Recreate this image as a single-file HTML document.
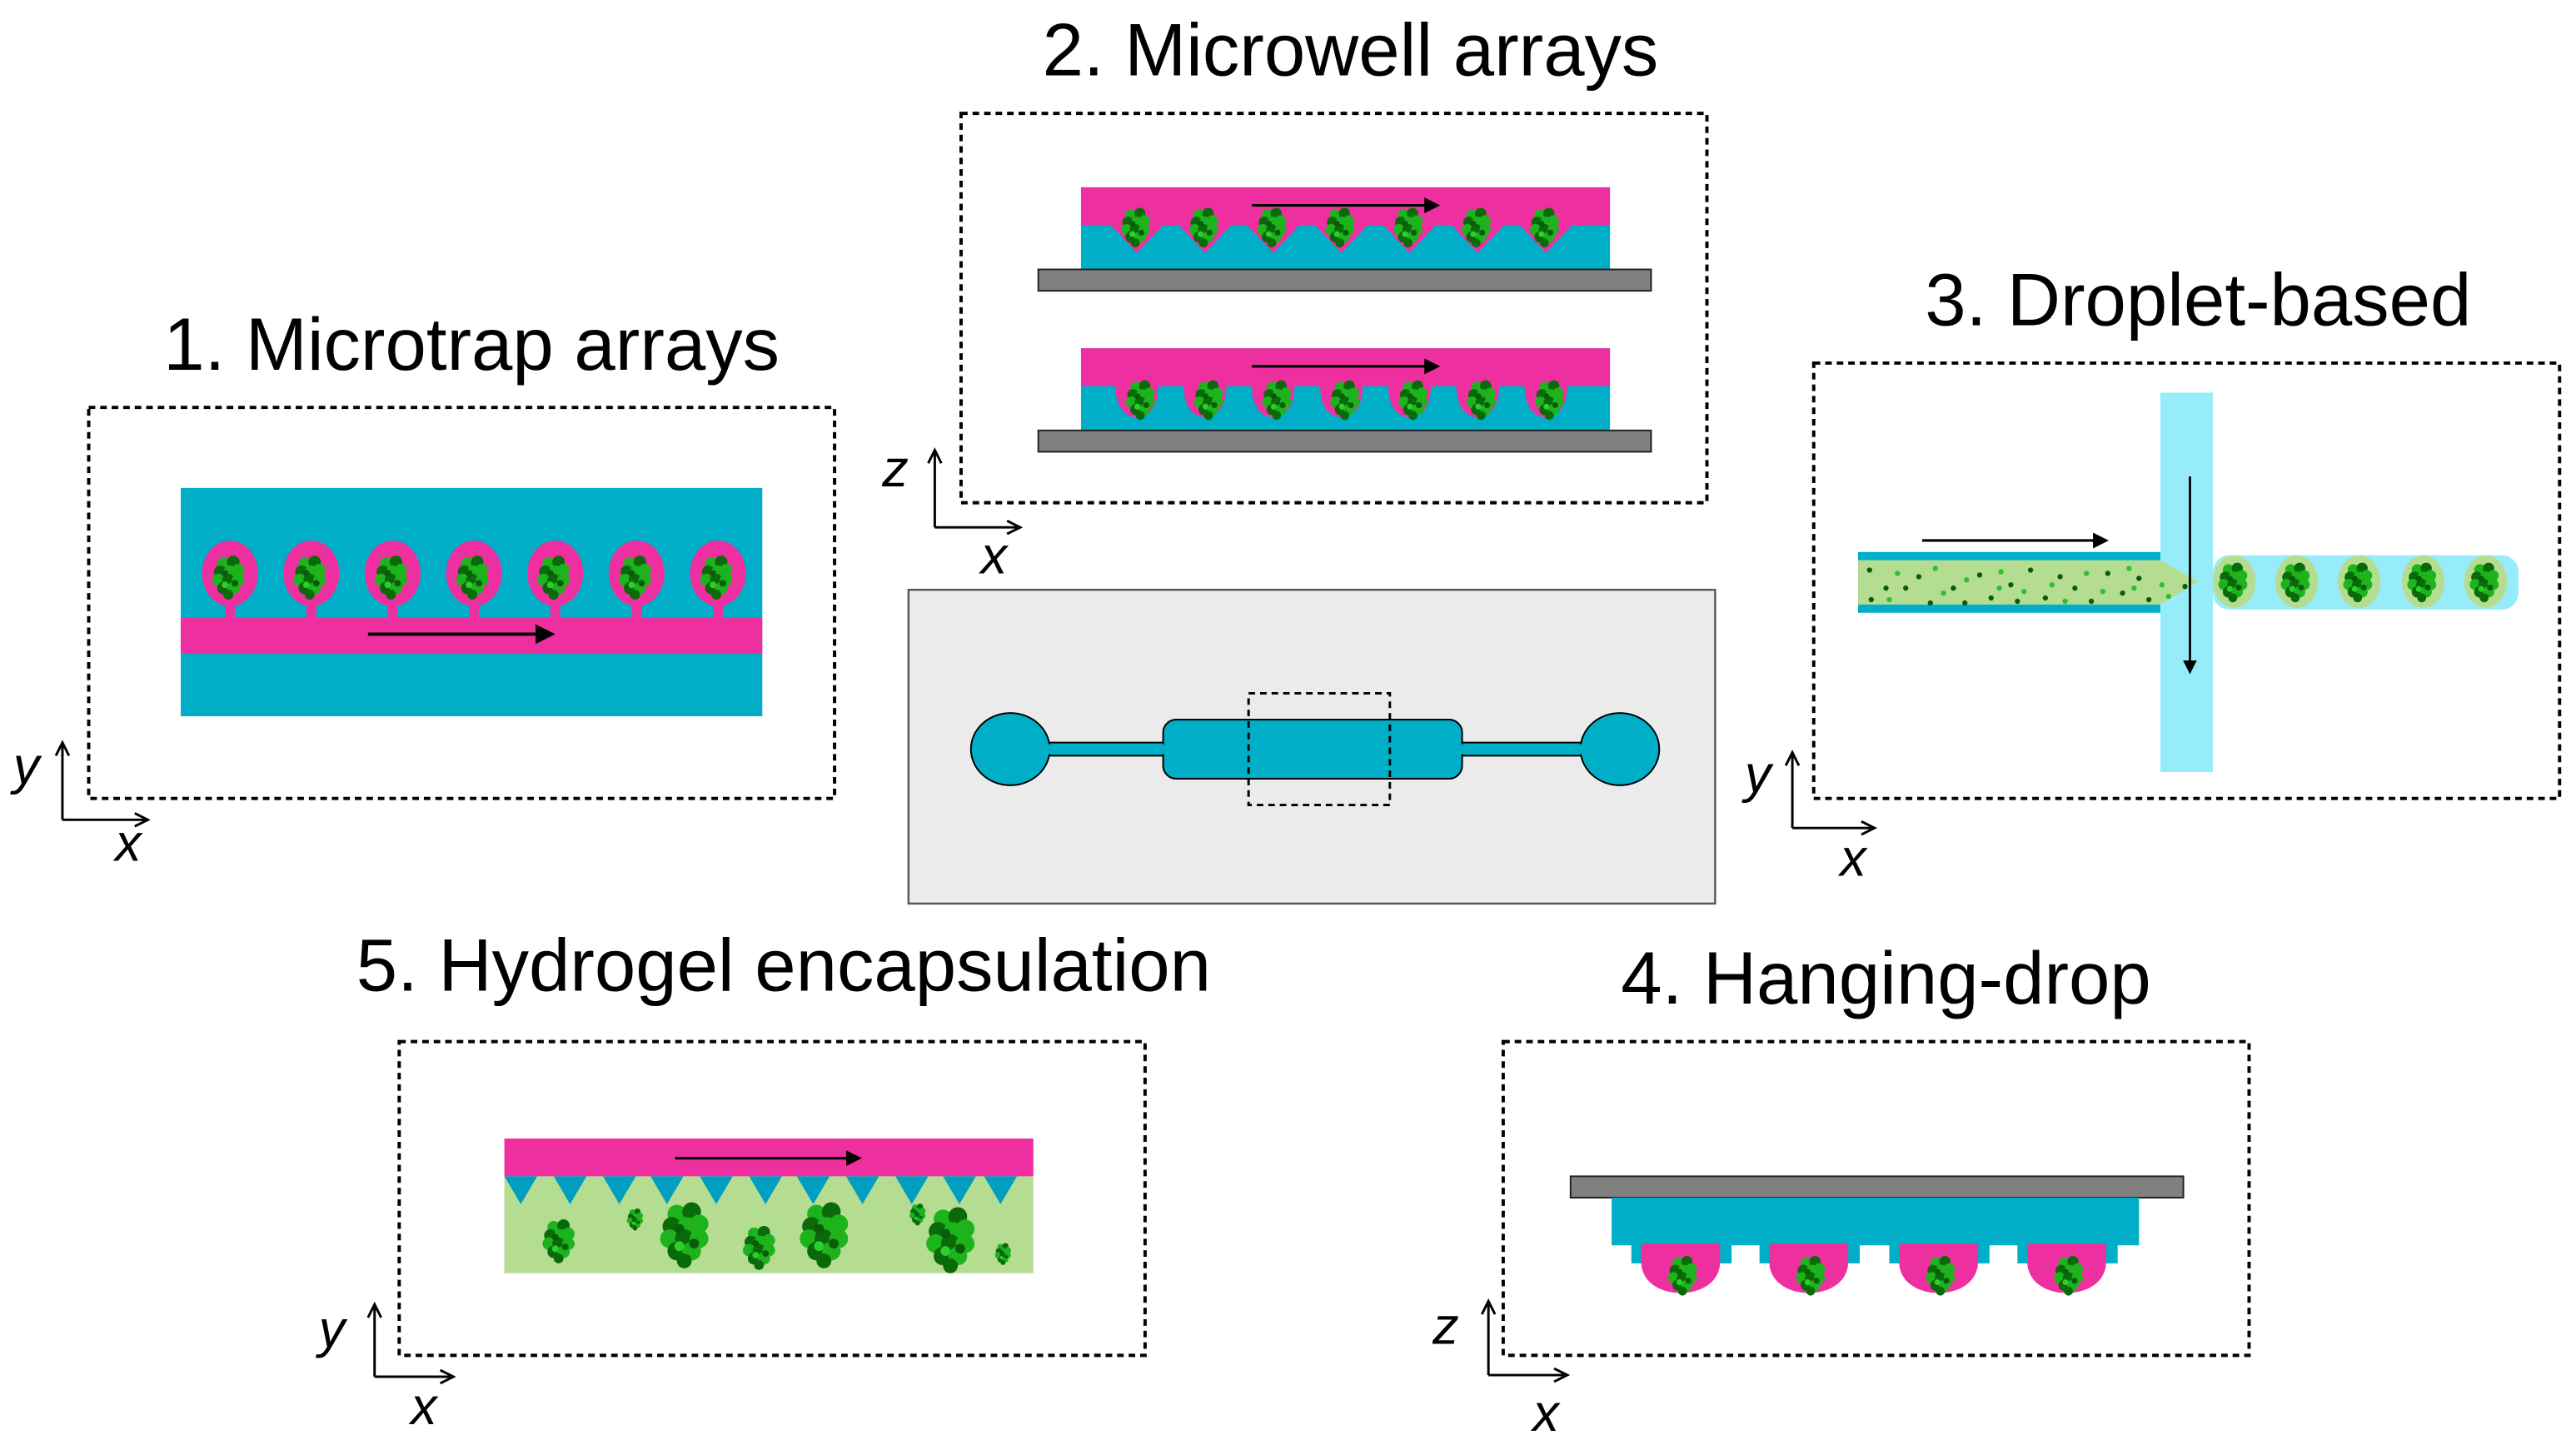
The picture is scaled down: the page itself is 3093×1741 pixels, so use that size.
<!DOCTYPE html>
<html><head><meta charset="utf-8"><style>html,body{margin:0;padding:0;background:#fff}svg{display:block}</style></head>
<body>
<svg width="3093" height="1741" viewBox="0 0 1568 882.6" xmlns="http://www.w3.org/2000/svg" font-family="Liberation Sans, sans-serif">
<defs>
<symbol id="cl" viewBox="-10 -12 20 24" overflow="visible">
<g>
<circle cx="-4" cy="-8" r="3.8" fill="#1db31d"/><circle cx="2" cy="-9" r="3.8" fill="#0a6a0a"/>
<circle cx="-6" cy="-3" r="3.8" fill="#0a6a0a"/><circle cx="0" cy="-3" r="3.8" fill="#1db31d"/><circle cx="5" cy="-4" r="3.8" fill="#1db31d"/>
<circle cx="-7" cy="2" r="3.8" fill="#1db31d"/><circle cx="-1" cy="2" r="3.8" fill="#0a6a0a"/><circle cx="5" cy="2" r="3.8" fill="#1db31d"/>
<circle cx="-4" cy="7" r="3.8" fill="#0a6a0a"/><circle cx="2" cy="7" r="3.8" fill="#1db31d"/><circle cx="-1" cy="11" r="3" fill="#0a6a0a"/>
<circle cx="-3" cy="-2" r="2" fill="#0a5c0a"/><circle cx="3" cy="4" r="2" fill="#0a5c0a"/><circle cx="-3" cy="5" r="2" fill="#2cd02c"/>
</g>
</symbol>
<marker id="ah" markerWidth="6" markerHeight="6" refX="5" refY="3" orient="auto" markerUnits="strokeWidth"><path d="M0,0 L6,3 L0,6 z" fill="#000"/></marker>
</defs>

<g font-size="45" fill="#000">
<text x="287" y="225" text-anchor="middle">1. Microtrap arrays</text>
<text x="822" y="46" text-anchor="middle">2. Microwell arrays</text>
<text x="1338" y="198" text-anchor="middle">3. Droplet-based</text>
<text x="477" y="603" text-anchor="middle">5. Hydrogel encapsulation</text>
<text x="1148" y="611" text-anchor="middle">4. Hanging-drop</text>
</g>

<g fill="none" stroke="#000" stroke-width="2" stroke-dasharray="4,3">
<rect x="54" y="248" width="454" height="238"/>
<rect x="585" y="69" width="454" height="237"/>
<rect x="1104" y="221" width="454" height="265"/>
<rect x="243" y="634" width="454" height="191"/>
<rect x="915" y="634" width="454" height="191"/>
</g>

<!-- axes -->
<g stroke="#000" stroke-width="1.5" fill="none">
<path d="M38,499 V454 M34,460 L38,452 L42,460"/><path d="M38,499 H88 M82,495 L90,499 L82,503"/>
<path d="M569,321 V276 M565,282 L569,274 L573,282"/><path d="M569,321 H619 M613,317 L621,321 L613,325"/>
<path d="M1091,504 V460 M1087,466 L1091,458 L1095,466"/><path d="M1091,504 H1139 M1133,500 L1141,504 L1133,508"/>
<path d="M228,838 V796 M224,802 L228,794 L232,802"/><path d="M228,838 H274 M268,834 L276,838 L268,842"/>
<path d="M906,837 V794 M902,800 L906,792 L910,800"/><path d="M906,837 H952 M946,833 L954,837 L946,841"/>
</g>
<g font-size="32" font-style="italic" fill="#000">
<text x="8" y="477">y</text><text x="70" y="524">x</text>
<text x="537" y="296">z</text><text x="597" y="349">x</text>
<text x="1062" y="482">y</text><text x="1120" y="533">x</text>
<text x="194" y="820">y</text><text x="250" y="867">x</text>
<text x="872" y="818">z</text><text x="933" y="871">x</text>
</g>

<!-- Panel 1 -->
<rect x="110" y="297" width="354" height="139" fill="#00aec7"/>
<rect x="110" y="376" width="354" height="22" fill="#ee2fa0"/>
<g fill="#ee2fa0">
<g id="tr"><ellipse cx="140" cy="349" rx="17" ry="20" /><rect x="137" y="365" width="6" height="12"/></g>
<use href="#tr" x="49.5"/><use href="#tr" x="99"/><use href="#tr" x="148.5"/><use href="#tr" x="198"/><use href="#tr" x="247.5"/><use href="#tr" x="297"/>
</g>
<g>
<use href="#cl" x="130" y="339" width="20" height="24"/><use href="#cl" x="179.5" y="339" width="20" height="24"/><use href="#cl" x="229" y="339" width="20" height="24"/><use href="#cl" x="278.5" y="339" width="20" height="24"/><use href="#cl" x="328" y="339" width="20" height="24"/><use href="#cl" x="377.5" y="339" width="20" height="24"/><use href="#cl" x="427" y="339" width="20" height="24"/>
</g>
<line x1="224" y1="386" x2="336" y2="386" stroke="#000" stroke-width="2" marker-end="url(#ah)"/>

<!-- Panel 2 upper -->
<rect x="658" y="114" width="322" height="50" fill="#00aec7"/>
<rect x="658" y="114" width="322" height="23" fill="#ee2fa0"/>
<g fill="#ee2fa0">
<path id="vw" d="M676,137 L708,137 L692,154 Z"/>
<use href="#vw" x="41.5"/><use href="#vw" x="83"/><use href="#vw" x="124.5"/><use href="#vw" x="166"/><use href="#vw" x="207.5"/><use href="#vw" x="249"/>
</g>
<g>
<use href="#cl" x="683" y="127" width="18" height="22"/><use href="#cl" x="724.5" y="127" width="18" height="22"/><use href="#cl" x="766" y="127" width="18" height="22"/><use href="#cl" x="807.5" y="127" width="18" height="22"/><use href="#cl" x="849" y="127" width="18" height="22"/><use href="#cl" x="890.5" y="127" width="18" height="22"/><use href="#cl" x="932" y="127" width="18" height="22"/>
</g>
<rect x="632" y="164" width="373" height="13" fill="#808080" stroke="#222" stroke-width="1"/>
<line x1="762" y1="125" x2="875" y2="125" stroke="#000" stroke-width="1.6" marker-end="url(#ah)"/>
<!-- Panel 2 lower -->
<rect x="658" y="212" width="322" height="50" fill="#00aec7"/>
<rect x="658" y="212" width="322" height="23" fill="#ee2fa0"/>
<g fill="#ee2fa0">
<path id="uw" d="M679,235 L705,235 C705,248 699,254 692,254 C685,254 679,248 679,235 Z"/>
<use href="#uw" x="41.5"/><use href="#uw" x="83"/><use href="#uw" x="124.5"/><use href="#uw" x="166"/><use href="#uw" x="207.5"/><use href="#uw" x="249"/>
</g>
<g>
<use href="#cl" x="686" y="232" width="18" height="22"/><use href="#cl" x="727.5" y="232" width="18" height="22"/><use href="#cl" x="769" y="232" width="18" height="22"/><use href="#cl" x="810.5" y="232" width="18" height="22"/><use href="#cl" x="852" y="232" width="18" height="22"/><use href="#cl" x="893.5" y="232" width="18" height="22"/><use href="#cl" x="935" y="232" width="18" height="22"/>
</g>
<rect x="632" y="262" width="373" height="13" fill="#808080" stroke="#222" stroke-width="1"/>
<line x1="762" y1="223" x2="875" y2="223" stroke="#000" stroke-width="1.6" marker-end="url(#ah)"/>

<!-- Chip -->
<rect x="553" y="359" width="491" height="191" fill="#ebebeb" stroke="#555" stroke-width="1.2"/>
<g fill="#00aec7" stroke="#000" stroke-width="1">
<rect x="630" y="452" width="90" height="8"/>
<rect x="880" y="452" width="90" height="8"/>
<ellipse cx="615" cy="456" rx="24" ry="22"/>
<ellipse cx="986" cy="456" rx="24" ry="22"/>
<rect x="708" y="438" width="182" height="36" rx="8"/>
</g>
<g fill="#00aec7"><rect x="636" y="453" width="74" height="6"/><rect x="888" y="453" width="76" height="6"/></g>
<rect x="760" y="422" width="86" height="68" fill="none" stroke="#000" stroke-width="1.5" stroke-dasharray="4,3"/>

<!-- Panel 3 -->
<rect x="1315" y="239" width="32" height="231" fill="#97ecfb"/>
<rect x="1131" y="336" width="184" height="37" fill="#00aec7"/>
<path d="M1131,341 H1315 L1338,354 L1315,368 H1131 Z" fill="#b5dd92"/>
<rect x="1347" y="338" width="186" height="33" rx="10" fill="#97ecfb"/>
<g fill="#b5dd92">
<ellipse cx="1360" cy="354" rx="13" ry="16"/><ellipse cx="1398" cy="354" rx="13" ry="16"/><ellipse cx="1436" cy="354" rx="13" ry="16"/><ellipse cx="1475" cy="354" rx="13" ry="16"/><ellipse cx="1513" cy="354" rx="13" ry="16"/>
</g>
<g>
<use href="#cl" x="1351" y="343" width="18" height="22"/><use href="#cl" x="1389" y="343" width="18" height="22"/><use href="#cl" x="1427" y="343" width="18" height="22"/><use href="#cl" x="1466" y="343" width="18" height="22"/><use href="#cl" x="1504" y="343" width="18" height="22"/>
</g>
<g fill="#0a5c0a">
<circle cx="1138" cy="347" r="1.6"/><circle cx="1148" cy="358" r="1.6"/><circle cx="1139" cy="365" r="1.6"/><circle cx="1160" cy="358" r="1.6"/><circle cx="1168" cy="351" r="1.6"/><circle cx="1175" cy="367" r="1.6"/><circle cx="1189" cy="358" r="1.6"/><circle cx="1205" cy="350" r="1.6"/><circle cx="1212" cy="364" r="1.6"/><circle cx="1224" cy="356" r="1.6"/><circle cx="1236" cy="347" r="1.6"/><circle cx="1245" cy="364" r="1.6"/><circle cx="1254" cy="351" r="1.6"/><circle cx="1263" cy="358" r="1.6"/><circle cx="1273" cy="366" r="1.6"/><circle cx="1283" cy="349" r="1.6"/><circle cx="1292" cy="361" r="1.6"/><circle cx="1302" cy="352" r="1.6"/><circle cx="1308" cy="365" r="1.6"/><circle cx="1330" cy="357" r="1.6"/><circle cx="1196" cy="367" r="1.6"/><circle cx="1228" cy="366" r="1.6"/>
</g>
<g fill="#2cc02c">
<circle cx="1155" cy="349" r="1.6"/><circle cx="1150" cy="365" r="1.6"/><circle cx="1178" cy="346" r="1.6"/><circle cx="1183" cy="361" r="1.6"/><circle cx="1197" cy="353" r="1.6"/><circle cx="1218" cy="348" r="1.6"/><circle cx="1217" cy="358" r="1.6"/><circle cx="1232" cy="360" r="1.6"/><circle cx="1249" cy="356" r="1.6"/><circle cx="1257" cy="366" r="1.6"/><circle cx="1270" cy="349" r="1.6"/><circle cx="1280" cy="360" r="1.6"/><circle cx="1296" cy="346" r="1.6"/><circle cx="1299" cy="358" r="1.6"/><circle cx="1316" cy="356" r="1.6"/><circle cx="1320" cy="363" r="1.6"/>
</g>
<line x1="1170" y1="329" x2="1282" y2="329" stroke="#000" stroke-width="1.6" marker-end="url(#ah)"/>
<line x1="1333" y1="290" x2="1333" y2="409" stroke="#000" stroke-width="1.4" marker-end="url(#ah)"/>

<!-- Panel 5 -->
<rect x="307" y="716" width="322" height="59" fill="#b5dd92"/>
<rect x="307" y="693" width="322" height="23" fill="#ee2fa0"/>
<g fill="#009ec0">
<path id="tri" d="M307,716 L327,716 L317,733 Z"/>
<use href="#tri" x="30"/><use href="#tri" x="60"/><use href="#tri" x="89"/><use href="#tri" x="119"/><use href="#tri" x="149"/><use href="#tri" x="178"/><use href="#tri" x="208"/><use href="#tri" x="238"/><use href="#tri" x="267"/><use href="#tri" x="292"/>
</g>
<g>
<use href="#cl" x="331" y="743" width="20" height="24"/>
<use href="#cl" x="403" y="733" width="30" height="36"/>
<use href="#cl" x="453" y="747" width="20" height="24"/>
<use href="#cl" x="488" y="733" width="30" height="36"/>
<use href="#cl" x="565" y="736" width="30" height="36"/>
<use href="#cl" x="382" y="736" width="10" height="12"/>
<use href="#cl" x="554" y="733" width="10" height="12"/>
<use href="#cl" x="606" y="757" width="10" height="12"/>
</g>
<line x1="411" y1="705" x2="523" y2="705" stroke="#000" stroke-width="1.6" marker-end="url(#ah)"/>

<!-- Panel 4 -->
<rect x="956" y="716" width="373" height="13" fill="#808080" stroke="#222" stroke-width="1"/>
<rect x="981" y="729" width="321" height="29" fill="#00aec7"/>
<g>
<g id="hd">
<rect x="993" y="757" width="61" height="12" fill="#00aec7"/>
<path d="M999,757 H1047 V768 C1047,780 1036,787 1023,787 C1010,787 999,780 999,768 Z" fill="#ee2fa0"/>
</g>
<use href="#hd" x="78"/><use href="#hd" x="157"/><use href="#hd" x="235"/>
</g>
<g>
<use href="#cl" x="1016" y="765" width="18" height="22"/><use href="#cl" x="1094" y="765" width="18" height="22"/><use href="#cl" x="1173" y="765" width="18" height="22"/><use href="#cl" x="1251" y="765" width="18" height="22"/>
</g>
</svg>
</body></html>
